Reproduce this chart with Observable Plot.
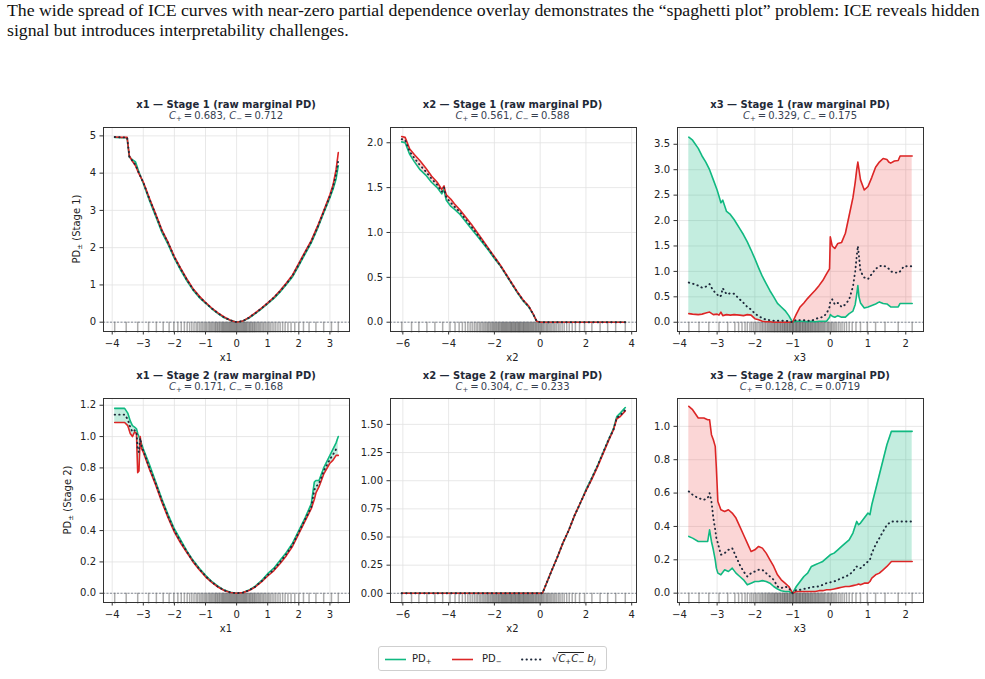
<!DOCTYPE html>
<html>
<head>
<meta charset="utf-8">
<script src="https://cdn.jsdelivr.net/npm/d3@7"></script>
<script src="https://cdn.jsdelivr.net/npm/@observablehq/plot@0.6"></script>
<style>
  html, body { margin: 0; padding: 0; background: #fff; }
  #root { position: relative; width: 985px; height: 679px; overflow: hidden; background: #fff; }
  .caption { position: absolute; left: 7px; top: -0.5px; width: 980px; font-family: "Liberation Serif", "Times New Roman", serif; font-size: 17.75px; line-height: 20px; color: #111; white-space: nowrap; }
  .ptitle, .psub { position: absolute; width: 300px; text-align: center; font-family: "DejaVu Sans", sans-serif; line-height: 12px; white-space: nowrap; }
  .ptitle { font-size: 10px; font-weight: bold; color: #1f2937; }
  .psub { font-size: 10px; color: #374151; }
  .psub sub, .leg sub { font-size: 70%; vertical-align: -0.3em; line-height: 0; }
  .xlab, .ylab { position: absolute; font-family: "DejaVu Sans", sans-serif; font-size: 10px; color: #222; white-space: nowrap; line-height: 12px; }
  .xlab { width: 100px; text-align: center; }
  .ylab { width: 140px; text-align: center; transform: rotate(-90deg); }
  .panel { position: absolute; }
  .legend { position: absolute; left: 378px; top: 646px; width: 229px; height: 25px; border: 1px solid #cfcfcf; border-radius: 3px; background: #fff; box-sizing: border-box; }
  .leg { position: absolute; top: 5px; font-family: "DejaVu Sans", sans-serif; font-size: 10px; line-height: 14px; color: #222; white-space: nowrap; }
  .ov { border-top: 1px solid #222; padding-top: 0px; }
</style>
</head>
<body>
<div id="root">
  <div class="caption">The wide spread of ICE curves with near-zero partial dependence overlay demonstrates the “spaghetti plot” problem: ICE reveals hidden<br>signal but introduces interpretability challenges.</div>
</div>
<script>
// ---- tick values ----
const x1Ticks = [-4, -3, -2, -1, 0, 1, 2, 3];
const x2Ticks = [-6, -4, -2, 0, 2, 4];
const x3Ticks = [-4, -3, -2, -1, 0, 1, 2];
const yTicksS1x1 = [0, 1, 2, 3, 4, 5];
const yTicksS1x2 = [0, 0.5, 1, 1.5, 2];
const yTicksS1x3 = [0, 0.5, 1, 1.5, 2, 2.5, 3, 3.5];
const yTicksS2x1 = [0, 0.2, 0.4, 0.6, 0.8, 1.0, 1.2];
const yTicksS2x2 = [0, 0.25, 0.5, 0.75, 1.0, 1.25, 1.5];
const yTicksS2x3 = [0, 0.2, 0.4, 0.6, 0.8, 1.0];

// ---- centering constants ----
const features = ["x1", "x2", "x3"];
const stage1CPlus = ["0.683", "0.561", "0.329"];
const stage1CMinus = ["0.712", "0.588", "0.175"];
const stage2CPlus = ["0.171", "0.304", "0.128"];
const stage2CMinus = ["0.168", "0.233", "0.0719"];

// ---- observed feature values (rug) ----
const x1Rug = [-3.92,-3.55,-3.18,-2.83,-2.58,-2.36,-2.17,-2.02,-1.89,-1.78,
  -1.68,-1.59,-1.51,-1.44,-1.37,-1.30,-1.25,-1.19,-1.14,-1.09,
  -1.04,-0.99,-0.95,-0.90,-0.86,-0.82,-0.78,-0.74,-0.70,-0.67,
  -0.63,-0.60,-0.56,-0.53,-0.49,-0.46,-0.43,-0.40,-0.37,-0.34,
  -0.31,-0.28,-0.25,-0.22,-0.19,-0.16,-0.13,-0.10,-0.07,-0.04,
  -0.01,0.02,0.05,0.08,0.11,0.14,0.17,0.20,0.23,0.26,
  0.29,0.32,0.35,0.39,0.42,0.45,0.49,0.52,0.56,0.59,
  0.63,0.67,0.71,0.75,0.79,0.84,0.88,0.93,0.98,1.03,
  1.08,1.14,1.20,1.26,1.33,1.40,1.48,1.56,1.65,1.75,
  1.87,2.00,2.15,2.33,2.55,2.80,3.05,3.27];
const x2Rug = [-6.05,-5.62,-5.30,-4.95,-4.60,-4.26,-3.94,-3.72,-3.54,-3.40,
  -3.27,-3.16,-3.06,-2.97,-2.88,-2.80,-2.73,-2.65,-2.59,-2.52,
  -2.46,-2.40,-2.34,-2.29,-2.24,-2.18,-2.13,-2.08,-2.04,-1.99,
  -1.94,-1.90,-1.85,-1.81,-1.77,-1.72,-1.68,-1.64,-1.60,-1.56,
  -1.52,-1.48,-1.44,-1.40,-1.36,-1.32,-1.28,-1.25,-1.21,-1.17,
  -1.13,-1.09,-1.06,-1.02,-0.98,-0.94,-0.91,-0.87,-0.83,-0.79,
  -0.75,-0.72,-0.68,-0.64,-0.60,-0.56,-0.52,-0.48,-0.44,-0.40,
  -0.36,-0.32,-0.28,-0.23,-0.19,-0.15,-0.10,-0.06,-0.01,0.04,
  0.08,0.13,0.18,0.24,0.29,0.34,0.40,0.46,0.52,0.59,
  0.65,0.72,0.80,0.87,0.96,1.05,1.16,1.27,1.40,1.54,
  1.72,1.94,2.26,2.62,2.95,3.30,3.72];
const x3Rug = [-3.75,-3.48,-3.22,-2.95,-2.72,-2.53,-2.43,-2.34,-2.26,-2.20,
  -2.13,-2.08,-2.03,-1.98,-1.94,-1.89,-1.85,-1.81,-1.78,-1.74,
  -1.71,-1.67,-1.64,-1.61,-1.58,-1.55,-1.52,-1.49,-1.47,-1.44,
  -1.41,-1.39,-1.36,-1.33,-1.31,-1.28,-1.26,-1.23,-1.21,-1.19,
  -1.16,-1.14,-1.12,-1.09,-1.07,-1.05,-1.02,-1.00,-0.98,-0.96,
  -0.93,-0.91,-0.89,-0.87,-0.84,-0.82,-0.80,-0.78,-0.75,-0.73,
  -0.71,-0.68,-0.66,-0.64,-0.61,-0.59,-0.57,-0.54,-0.52,-0.49,
  -0.47,-0.44,-0.41,-0.39,-0.36,-0.33,-0.31,-0.28,-0.25,-0.22,
  -0.19,-0.16,-0.13,-0.09,-0.06,-0.03,0.01,0.04,0.08,0.12,
  0.16,0.21,0.26,0.31,0.37,0.43,0.50,0.58,0.68,0.80,
  0.98,1.20,1.45,1.80,2.17];

// ---- Stage 1, x1 ----
const x1GridS1 = [-3.92,-3.7,-3.52,-3.45,-3.35,-3.25,-3.15,-3.0,
  -2.8,-2.6,-2.4,-2.2,-2.0, -1.8,-1.6,-1.4,-1.2,-1.0, -0.8,-0.6,-0.4,-0.2,0.0,
  0.2,0.4,0.6,0.8,1.0, 1.2,1.4,1.6,1.8,2.0, 2.2,2.4,2.6,2.8,3.0, 3.1,3.2,3.27];
const x1S1Pos = [4.96,4.95,4.95,4.43,4.36,4.30,4.05,3.72,
  3.26,2.84,2.41,2.08,1.71, 1.40,1.11,0.86,0.66,0.51, 0.36,0.23,0.12,0.05,0.00,
  0.03,0.11,0.23,0.36,0.50, 0.64,0.81,1.01,1.22,1.52, 1.83,2.13,2.51,2.93,3.34, 3.57,3.85,4.20];
const x1S1Neg = [4.97,4.96,4.96,4.46,4.32,4.20,4.00,3.76,
  3.32,2.90,2.47,2.14,1.76, 1.45,1.16,0.90,0.70,0.53, 0.38,0.25,0.14,0.05,0.00,
  0.03,0.13,0.25,0.38,0.52, 0.67,0.85,1.05,1.27,1.58, 1.89,2.19,2.57,2.99,3.42, 3.68,4.10,4.55];
const x1S1Mid = [4.97,4.96,4.96,4.45,4.33,4.22,4.02,3.75,
  3.30,2.88,2.45,2.12,1.74, 1.43,1.14,0.88,0.68,0.52, 0.37,0.24,0.13,0.05,0.00,
  0.03,0.12,0.24,0.37,0.51, 0.66,0.83,1.03,1.25,1.55, 1.86,2.16,2.54,2.96,3.38, 3.62,3.97,4.35];

// ---- Stage 1, x2 ----
const x2GridS1 = [-6.05,-5.9,-5.7,-5.5,-5.25,-5.0,-4.75,-4.5,-4.3,-4.2,
  -4.15,-4.1,-3.9,-3.75,-3.5,-3.25,-3.0,-2.75,-2.5,-2.25,
  -2.0,-1.75,-1.5,-1.25,-1.0,-0.75,-0.5,-0.3,-0.15,0.0,
  1.0,2.0,3.0,3.72];
const x2S1Pos = [2.01,2.00,1.87,1.79,1.70,1.64,1.56,1.50,1.43,1.48,
  1.41,1.36,1.29,1.26,1.20,1.12,1.04,0.96,0.88,0.80,
  0.71,0.63,0.53,0.43,0.33,0.24,0.17,0.085,0.01,0.0,
  0.0,0.0,0.0,0.0];
const x2S1Neg = [2.07,2.06,1.93,1.87,1.80,1.72,1.63,1.56,1.48,1.52,
  1.46,1.42,1.37,1.32,1.25,1.17,1.09,1.00,0.91,0.82,
  0.73,0.64,0.54,0.44,0.34,0.25,0.18,0.09,0.01,0.0,
  0.0,0.0,0.0,0.0];
const x2S1Mid = [2.04,2.03,1.90,1.83,1.75,1.68,1.60,1.53,1.455,1.50,
  1.435,1.39,1.33,1.29,1.225,1.145,1.065,0.98,0.895,0.81,
  0.72,0.635,0.535,0.435,0.335,0.245,0.175,0.088,0.01,0.0,
  0.0,0.0,0.0,0.0];

// ---- Stage 1, x3 ----
const x3GridS1 = [-3.75,-3.65,-3.5,-3.4,-3.3,-3.2,-3.1,-3.0,-2.95,-2.9,
  -2.85,-2.75,-2.65,-2.55,-2.4,-2.3,-2.2,-2.1,-2.0,-1.9,
  -1.8,-1.7,-1.6,-1.5,-1.4,-1.3,-1.2,-1.1,-1.0,-0.9,
  -0.8,-0.7,-0.6,-0.5,-0.4,-0.3,-0.2,-0.1,-0.02,0.0,
  0.05,0.12,0.2,0.3,0.4,0.5,0.6,0.66,0.7,0.73,
  0.76,0.8,0.9,1.0,1.1,1.2,1.3,1.4,1.5,1.55,
  1.6,1.7,1.8,1.85,1.95,2.05,2.17];
const x3S1Pos = [3.64,3.58,3.42,3.27,3.15,3.00,2.80,2.60,2.48,2.35,
  2.40,2.18,2.12,2.02,1.84,1.72,1.58,1.42,1.25,1.07,
  0.90,0.76,0.62,0.50,0.37,0.30,0.23,0.13,0.00,0.02,
  0.02,0.02,0.01,0.02,0.01,0.02,0.02,0.02,0.10,0.15,
  0.12,0.10,0.13,0.10,0.10,0.17,0.22,0.35,0.55,0.72,
  0.50,0.38,0.28,0.30,0.33,0.36,0.40,0.37,0.36,0.33,
  0.30,0.30,0.30,0.37,0.37,0.37,0.37];
const x3S1Neg = [0.17,0.16,0.15,0.16,0.18,0.20,0.15,0.16,0.14,0.20,
  0.13,0.15,0.14,0.15,0.14,0.13,0.15,0.14,0.07,0.05,
  0.02,0.01,0.01,0.00,0.00,0.00,0.00,0.00,0.00,0.16,
  0.30,0.38,0.47,0.55,0.63,0.72,0.82,0.95,1.05,1.68,
  1.50,1.45,1.55,1.57,1.75,2.10,2.45,2.75,3.00,3.15,
  3.00,2.80,2.60,2.67,2.85,3.05,3.15,3.22,3.20,3.15,
  3.13,3.17,3.18,3.27,3.27,3.27,3.27];
const x3S1Mid = [0.78,0.76,0.72,0.68,0.70,0.75,0.62,0.55,0.50,0.52,
  0.67,0.55,0.57,0.56,0.45,0.38,0.30,0.25,0.17,0.12,
  0.08,0.05,0.04,0.03,0.03,0.03,0.03,0.02,0.00,0.05,
  0.04,0.04,0.03,0.03,0.06,0.09,0.10,0.17,0.30,0.42,
  0.45,0.35,0.38,0.30,0.35,0.45,0.70,1.00,1.30,1.50,
  1.30,1.00,0.88,0.85,0.95,1.05,1.10,1.12,1.08,1.05,
  1.00,0.98,0.97,1.00,1.10,1.10,1.10];

// ---- Stage 2, x1 ----
const x1GridS2 = [-3.92,-3.6,-3.5,-3.42,-3.35,-3.28,-3.22,-3.18,-3.14,-3.1,
  -3.05,-3.0,-2.8,-2.6,-2.4,-2.2,-2.0,-1.8,-1.6,-1.4,
  -1.2,-1.0,-0.8,-0.6,-0.4,-0.2,0.0,0.2,0.4,0.6,
  0.8,1.0,1.2,1.4,1.6,1.8,2.0,2.2,2.4,2.5,
  2.55,2.65,2.8,3.0,3.1,3.2,3.27];
const x1S2Pos = [1.18,1.18,1.15,1.10,1.07,1.06,1.05,1.02,1.00,0.98,
  0.95,0.92,0.82,0.71,0.60,0.50,0.41,0.34,0.27,0.21,
  0.16,0.115,0.075,0.045,0.02,0.006,0.0,0.005,0.02,0.045,
  0.08,0.125,0.16,0.21,0.26,0.32,0.40,0.48,0.57,0.71,
  0.72,0.72,0.80,0.88,0.92,0.96,1.00];
const x1S2Neg = [1.09,1.09,1.07,1.02,1.00,1.03,1.02,0.77,0.78,1.00,
  0.92,0.90,0.79,0.69,0.58,0.48,0.39,0.32,0.26,0.20,
  0.15,0.105,0.07,0.04,0.018,0.005,0.0,0.004,0.018,0.04,
  0.072,0.11,0.145,0.19,0.24,0.30,0.38,0.46,0.54,0.60,
  0.64,0.68,0.76,0.83,0.85,0.88,0.88];
const x1S2Mid = [1.14,1.14,1.11,1.06,1.03,1.04,1.03,0.92,0.90,0.99,
  0.93,0.91,0.80,0.70,0.59,0.49,0.40,0.33,0.265,0.205,
  0.155,0.11,0.072,0.042,0.019,0.005,0.0,0.004,0.019,0.042,
  0.076,0.117,0.152,0.20,0.25,0.31,0.39,0.47,0.55,0.66,
  0.68,0.70,0.78,0.855,0.885,0.92,0.93];

// ---- Stage 2, x2 ----
const x2GridS2 = [-6.05,-3.0,0.0,0.1,0.3,0.5,0.75,1.0,1.25,1.5,
  1.75,2.0,2.25,2.5,2.75,3.0,3.2,3.35,3.5,3.72];
const x2S2Pos = [0,0,0,0.0,0.1,0.2,0.32,0.45,0.56,0.69,
  0.80,0.92,1.02,1.13,1.25,1.37,1.46,1.57,1.60,1.65];
const x2S2Neg = [0,0,0,0.0,0.1,0.2,0.32,0.45,0.56,0.69,
  0.80,0.91,1.01,1.12,1.24,1.36,1.45,1.55,1.57,1.62];
const x2S2Mid = [0,0,0,0.0,0.1,0.2,0.32,0.45,0.56,0.69,
  0.80,0.91,1.02,1.13,1.25,1.37,1.45,1.56,1.58,1.63];

// ---- Stage 2, x3 ----
const x3GridS2 = [-3.75,-3.65,-3.5,-3.35,-3.25,-3.2,-3.15,-3.1,-3.05,-3.02,
  -2.98,-2.9,-2.8,-2.7,-2.6,-2.5,-2.4,-2.3,-2.2,-2.1,
  -2.0,-1.9,-1.8,-1.7,-1.6,-1.5,-1.4,-1.3,-1.2,-1.1,
  -1.0,-0.9,-0.8,-0.7,-0.6,-0.5,-0.4,-0.3,-0.2,-0.1,
  0.0,0.1,0.2,0.3,0.4,0.5,0.6,0.7,0.75,0.8,
  0.9,1.0,1.05,1.1,1.2,1.3,1.4,1.5,1.62,1.8,
  2.0,2.17];
const x3S2Pos = [0.34,0.33,0.31,0.31,0.31,0.38,0.31,0.26,0.20,0.15,
  0.12,0.11,0.14,0.13,0.15,0.12,0.10,0.08,0.05,0.06,
  0.07,0.07,0.075,0.07,0.06,0.04,0.025,0.015,0.01,0.01,
  0.0,0.04,0.07,0.10,0.12,0.16,0.17,0.18,0.19,0.21,
  0.23,0.24,0.26,0.28,0.30,0.32,0.36,0.43,0.41,0.42,
  0.45,0.48,0.47,0.53,0.62,0.71,0.80,0.89,0.97,0.97,
  0.97,0.97];
const x3S2Neg = [1.12,1.10,1.05,1.05,1.04,1.04,0.95,0.92,0.88,0.75,
  0.55,0.50,0.49,0.50,0.48,0.45,0.40,0.35,0.30,0.25,
  0.26,0.28,0.27,0.24,0.20,0.16,0.11,0.08,0.06,0.04,
  0.0,0.01,0.01,0.01,0.01,0.01,0.01,0.015,0.015,0.02,
  0.02,0.025,0.03,0.035,0.04,0.04,0.045,0.05,0.055,0.05,
  0.06,0.06,0.07,0.09,0.11,0.12,0.14,0.16,0.19,0.19,
  0.19,0.19];
const x3S2Mid = [0.61,0.59,0.57,0.56,0.57,0.60,0.55,0.45,0.38,0.33,
  0.30,0.23,0.24,0.26,0.27,0.22,0.17,0.13,0.10,0.12,
  0.13,0.14,0.14,0.12,0.10,0.08,0.04,0.03,0.04,0.03,
  0.0,0.02,0.02,0.025,0.03,0.035,0.04,0.04,0.05,0.06,
  0.065,0.07,0.08,0.09,0.10,0.11,0.13,0.16,0.15,0.15,
  0.17,0.19,0.20,0.24,0.29,0.33,0.37,0.41,0.43,0.43,
  0.43,0.43];

// ---- layout ----
const W = 246, H = 204;
const ML = 50, MR = 12, MT = 6, MB = 26;
const colLeft = [103, 389.5, 677];
const rowTop = [127, 397.5];
const yLabelX = [77, 67.5];

const GREEN = "#10b981", RED = "#dc2626", NAVY = "#1e293b";
const FILL_GREEN = "#10b981", FILL_RED = "#ef4444";
const DOTS = "0.4,4.1";

const panels = [
  {row: 0, col: 0, grid: x1GridS1, pos: x1S1Pos, neg: x1S1Neg, mid: x1S1Mid, rug: x1Rug,
   xDomain: [-4.28, 3.63], yDomain: [-0.25, 5.225], xTicks: x1Ticks, yTicks: yTicksS1x1, yFmt: "d"},
  {row: 0, col: 1, grid: x2GridS1, pos: x2S1Pos, neg: x2S1Neg, mid: x2S1Mid, rug: x2Rug,
   xDomain: [-6.54, 4.21], yDomain: [-0.1035, 2.17], xTicks: x2Ticks, yTicks: yTicksS1x2, yFmt: ".1f"},
  {row: 0, col: 2, grid: x3GridS1, pos: x3S1Pos, neg: x3S1Neg, mid: x3S1Mid, rug: x3Rug,
   xDomain: [-4.05, 2.47], yDomain: [-0.182, 3.83], xTicks: x3Ticks, yTicks: yTicksS1x3, yFmt: ".1f"},
  {row: 1, col: 0, grid: x1GridS2, pos: x1S2Pos, neg: x1S2Neg, mid: x1S2Mid, rug: x1Rug,
   xDomain: [-4.28, 3.63], yDomain: [-0.059, 1.243], xTicks: x1Ticks, yTicks: yTicksS2x1, yFmt: ".1f"},
  {row: 1, col: 1, grid: x2GridS2, pos: x2S2Pos, neg: x2S2Neg, mid: x2S2Mid, rug: x2Rug,
   xDomain: [-6.54, 4.21], yDomain: [-0.0815, 1.73], xTicks: x2Ticks, yTicks: yTicksS2x2, yFmt: ".2f"},
  {row: 1, col: 2, grid: x3GridS2, pos: x3S2Pos, neg: x3S2Neg, mid: x3S2Mid, rug: x3Rug,
   xDomain: [-4.05, 2.47], yDomain: [-0.056, 1.167], xTicks: x3Ticks, yTicks: yTicksS2x3, yFmt: ".1f"}
];

const root = document.getElementById("root");

function addDiv(cls, html, left, top) {
  const d = document.createElement("div");
  d.className = cls;
  d.innerHTML = html;
  d.style.left = left + "px";
  d.style.top = top + "px";
  root.appendChild(d);
  return d;
}

for (const p of panels) {
  const left = colLeft[p.col], top = rowTop[p.row];
  const stage = p.row + 1;
  const feat = features[p.col];
  const cPlus = (stage === 1 ? stage1CPlus : stage2CPlus)[p.col];
  const cMinus = (stage === 1 ? stage1CMinus : stage2CMinus)[p.col];
  const rows = p.grid.map((x, i) => ({x, pos: p.pos[i], neg: p.neg[i], mid: p.mid[i]}));

  const chart = Plot.plot({
    width: ML + W + MR,
    height: MT + H + MB,
    marginLeft: ML, marginRight: MR, marginTop: MT, marginBottom: MB,
    style: {fontFamily: "'DejaVu Sans', sans-serif", fontSize: "10px", color: "#222", background: "transparent", overflow: "visible"},
    x: {domain: p.xDomain},
    y: {domain: p.yDomain},
    marks: [
      Plot.gridX({ticks: p.xTicks, stroke: "#e2e2e2", strokeOpacity: 1, strokeWidth: 0.8}),
      Plot.gridY({ticks: p.yTicks, stroke: "#e2e2e2", strokeOpacity: 1, strokeWidth: 0.8}),
      // shaded gap: green where PD+ is above PD-, red where PD- is above PD+
      Plot.areaY(rows, {x: "x", y1: "neg", y2: d => Math.max(d.pos, d.neg), fill: FILL_GREEN, fillOpacity: 0.25}),
      Plot.areaY(rows, {x: "x", y1: "pos", y2: d => Math.max(d.pos, d.neg), fill: FILL_RED, fillOpacity: 0.22}),
      // rug of observed feature values
      Plot.ruleX(p.rug, {x: d => d, y1: p.yDomain[0], y2: 0, insetTop: 1.5, stroke: "#000", strokeOpacity: 0.32, strokeWidth: 1.5}),
      Plot.ruleY([0], {stroke: "#6b7280", strokeWidth: 0.8, strokeDasharray: "2,1.5"}),
      Plot.lineY(rows, {x: "x", y: "pos", stroke: GREEN, strokeWidth: 1.6}),
      Plot.lineY(rows, {x: "x", y: "neg", stroke: RED, strokeWidth: 1.6}),
      Plot.lineY(rows, {x: "x", y: "mid", stroke: NAVY, strokeWidth: 1.9, strokeDasharray: DOTS, strokeLinecap: "round"}),
      Plot.axisX({ticks: p.xTicks, tickFormat: d3.format("d"), tickSize: 3.5, tickPadding: 4.5, label: null, stroke: "#333"}),
      Plot.axisY({ticks: p.yTicks, tickFormat: d3.format(p.yFmt), tickSize: 3.5, tickPadding: 4, label: null, stroke: "#333"}),
      Plot.frame({stroke: "#333", strokeWidth: 1})
    ]
  });

  const holder = document.createElement("div");
  holder.className = "panel";
  holder.style.left = (left - ML) + "px";
  holder.style.top = (top - MT) + "px";
  holder.appendChild(chart);
  root.appendChild(holder);

  const cx = left + W / 2;
  addDiv("ptitle", `${feat} — Stage ${stage} (raw marginal PD)`, cx - 150, top - 28);
  addDiv("psub", `<i>C</i><sub>+</sub>&#8201;=&#8201;${cPlus}, <i>C</i><sub>−</sub>&#8201;=&#8201;${cMinus}`, cx - 150, top - 17);
  addDiv("xlab", feat, cx - 50, top + H + 21);
  if (p.col === 0) {
    addDiv("ylab", `PD<sub style="font-size:70%;vertical-align:-0.3em;line-height:0">±</sub> (Stage ${stage})`, yLabelX[p.row] - 70, top + H / 2 - 6);
  }
}

// ---- legend ----
const legend = document.createElement("div");
legend.className = "legend";
legend.innerHTML = `
  <svg width="229" height="25" style="position:absolute;left:0;top:0">
    <line x1="6" x2="27" y1="12.5" y2="12.5" stroke="${GREEN}" stroke-width="1.6"/>
    <line x1="73" x2="94" y1="12.5" y2="12.5" stroke="${RED}" stroke-width="1.6"/>
    <line x1="143" x2="164" y1="12.5" y2="12.5" stroke="${NAVY}" stroke-width="1.9" stroke-dasharray="${DOTS}" stroke-linecap="round"/>
  </svg>
  <div class="leg" style="left:33px">PD<sub>+</sub></div>
  <div class="leg" style="left:103px">PD<sub>−</sub></div>
  <div class="leg" style="left:173px">√<span class="ov"><i>C</i><sub>+</sub><i>C</i><sub>−</sub></span> <i>b<sub>j</sub></i></div>
`;
root.appendChild(legend);
</script>
</body>
</html>
